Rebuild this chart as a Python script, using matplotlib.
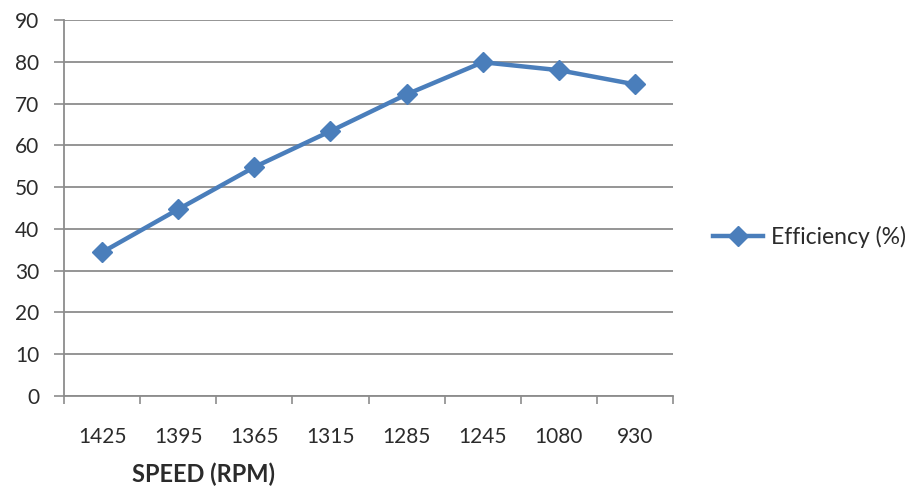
import matplotlib.pyplot as plt
from matplotlib.ticker import FixedLocator, NullFormatter

plt.rcParams["font.family"] = ["Lato", "DejaVu Sans"]

speeds = ["1425", "1395", "1365", "1315", "1285", "1245", "1080", "930"]
efficiency = [34.4, 44.7, 54.8, 63.4, 72.2, 79.9, 78.0, 74.6]
y_ticks = [0, 10, 20, 30, 40, 50, 60, 70, 80, 90]

blue = "#4a7ebb"
grid_gray = "#8c8c8c"
text_color = "#2b2b2b"

fig = plt.figure(figsize=(9.16, 4.9), dpi=100)
ax = fig.add_axes([0.0699, 0.1918, 0.6648, 0.7673])

x = list(range(len(speeds)))
ax.plot(x, efficiency, color=blue, lw=3.2, marker="D", ms=10,
        markerfacecolor=blue, markeredgecolor=blue, label="Efficiency (%)")

ax.set_xlim(-0.5, len(speeds) - 0.5)
ax.set_ylim(0, 90)
ax.set_yticks(y_ticks)
ax.yaxis.grid(True, color=grid_gray, lw=1.3)
ax.set_axisbelow(True)

# category labels sit centred, tick marks sit between categories
ax.set_xticks(x)
ax.set_xticklabels(speeds)
ax.xaxis.set_minor_locator(FixedLocator([i - 0.5 for i in range(len(speeds) + 1)]))
ax.xaxis.set_minor_formatter(NullFormatter())
ax.tick_params(axis="x", which="major", length=0, pad=22, labelsize=15, colors=text_color)
ax.tick_params(axis="x", which="minor", length=6, width=1.2, color=grid_gray, direction="out")
ax.tick_params(axis="y", length=7, width=1.2, color=grid_gray, pad=11, labelsize=15,
               labelcolor=text_color)

for side in ("top", "right"):
    ax.spines[side].set_visible(False)
for side in ("left", "bottom"):
    ax.spines[side].set_color(grid_gray)
    ax.spines[side].set_linewidth(1.3)

fig.text(204 / 916, 1 - 474 / 490, "SPEED (RPM)", ha="center", va="center",
         fontsize=17, fontweight="bold", color=text_color)

fig.legend(loc="center left", bbox_to_anchor=(713 / 916, 1 - 237 / 490),
           frameon=False, fontsize=16.5, handlelength=2.2, handletextpad=0.35,
           borderpad=0, borderaxespad=0, labelcolor=text_color)

fig.savefig("out.png", dpi=100)
